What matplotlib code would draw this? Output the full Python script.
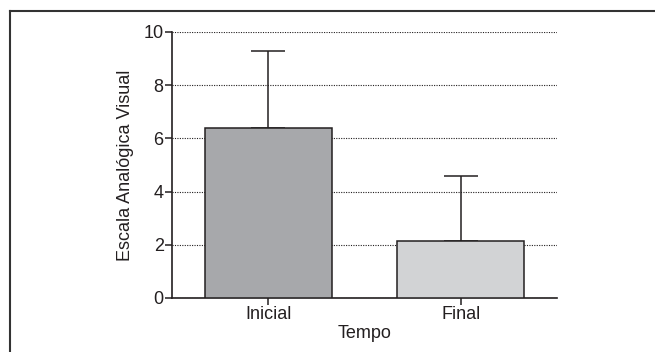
import matplotlib.pyplot as plt
from matplotlib.lines import Line2D

plt.rcParams['font.family'] = ['Liberation Sans', 'DejaVu Sans']

categories = ['Inicial', 'Final']
means = [6.4, 2.13]
errors = [2.88, 2.45]
bar_colors = ['#a7a8ab', '#d2d3d5']
y_ticks = [0, 2, 4, 6, 8, 10]

def plot_graph():
    fig = plt.figure(figsize=(6.55, 3.52), dpi=100)
    ax = fig.add_axes([172 / 655, 1 - 298 / 352, (557 - 172) / 655, (298 - 32) / 352])

    x = range(len(categories))
    ax.errorbar(x, means, yerr=[[0] * len(errors), errors], fmt='none',
                ecolor='#231f20', elinewidth=1.1, capsize=12, capthick=1.1, zorder=2)
    ax.bar(x, means, width=0.66, color=bar_colors, edgecolor='#231f20',
           linewidth=1.1, zorder=3)

    ax.set_xlim(-0.5, 1.5)
    ax.set_ylim(0, 10)
    ax.set_yticks(y_ticks)
    ax.set_xticks(list(x))
    ax.set_xticklabels(categories)
    ax.yaxis.grid(True, linestyle=(0, (1, 1.2)), color='#231f20', linewidth=0.8, zorder=0)
    ax.set_axisbelow(True)

    for side in ['top', 'right']:
        ax.spines[side].set_visible(False)
    for side in ['left', 'bottom']:
        ax.spines[side].set_color('#231f20')
        ax.spines[side].set_linewidth(1.2)
    ax.tick_params(axis='both', colors='#231f20', labelsize=13, length=5, width=1.1, pad=1)

    ax.set_xlabel('Tempo', fontsize=13, labelpad=1, color='#231f20')
    ax.set_ylabel('Escala Analógica Visual', fontsize=13, labelpad=7, color='#231f20')

    # frame lines along top and left edge of the figure
    fig.add_artist(Line2D([10 / 655, 1.0], [1 - 11 / 352, 1 - 11 / 352],
                          transform=fig.transFigure, color='#333333', linewidth=1.5))
    fig.add_artist(Line2D([10 / 655, 10 / 655], [0.0, 1 - 11 / 352],
                          transform=fig.transFigure, color='#333333', linewidth=1.5))

    fig.savefig('out.png', dpi=100)

if __name__ == "__main__":
    plot_graph()
